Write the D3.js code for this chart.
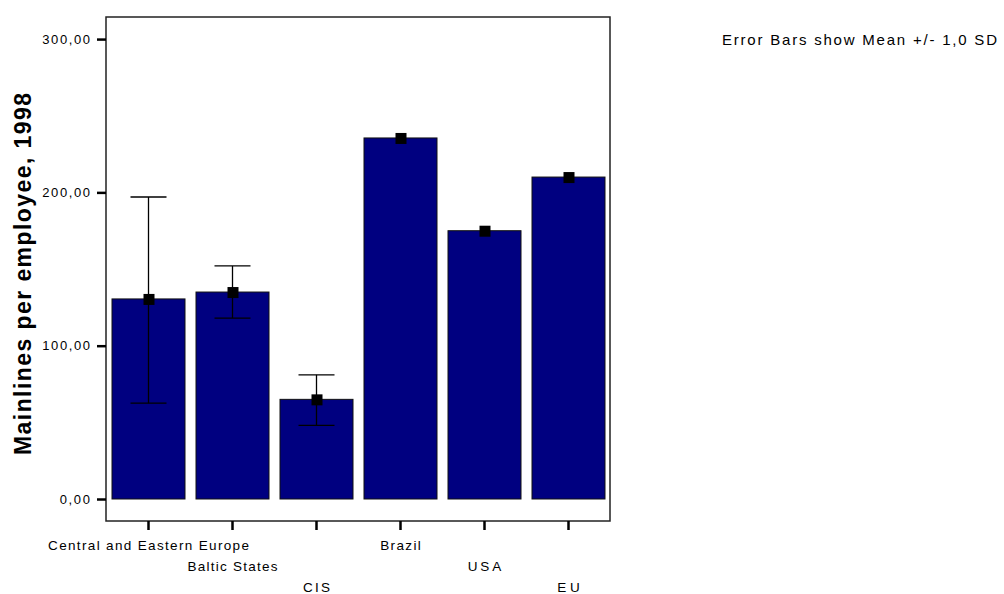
<!DOCTYPE html>
<html>
<head>
<meta charset="utf-8">
<script src="https://cdn.jsdelivr.net/npm/d3@7"></script>
<style>
  body { margin: 0; background: #fff; }
  svg { display: block; }
</style>
</head>
<body>
<svg id="chart" width="1004" height="594"></svg>
<script>
const categories = ["Central and Eastern Europe", "Baltic States", "CIS", "Brazil", "USA", "EU"];
const means = [130.5, 135, 65, 235.5, 175, 210];
const sdLow = [62.5, 118, 48, 235.5, 175, 210];
const sdHigh = [197, 152, 81, 235.5, 175, 210];
const yTicks = [0, 100, 200, 300];

// the original uses a wide bitmap font, so stretch text horizontally
function stretch(sel, k) {
  sel.each(function() {
    const w = this.getComputedTextLength();
    d3.select(this).attr("textLength", w * k).attr("lengthAdjust", "spacing");
  });
}

function main() {
  const svg = d3.select("#chart");
  const frame = {left: 106, right: 610, top: 17, bottom: 521};
  const font = "Liberation Sans, Arial, sans-serif";

  const x = d3.scaleBand()
    .domain(categories)
    .range([112, 605])
    .paddingInner(11 / 84)
    .paddingOuter(0);

  const y = d3.scaleLinear()
    .domain([-14.35, 314.4])
    .range([frame.bottom, frame.top]);

  const fmt = d => d3.format(".2f")(d).replace(".", ",");
  const bw = x.bandwidth();
  const cx = d => x(d) + bw / 2;

  // frame
  svg.append("rect")
    .attr("x", frame.left).attr("y", frame.top)
    .attr("width", frame.right - frame.left)
    .attr("height", frame.bottom - frame.top)
    .attr("fill", "none").attr("stroke", "#222").attr("stroke-width", 1.5);

  // bars
  svg.append("g").selectAll("rect")
    .data(categories).enter()
    .append("rect")
      .attr("x", d => x(d))
      .attr("y", (d, i) => y(means[i]))
      .attr("width", bw)
      .attr("height", (d, i) => y(0) - y(means[i]))
      .attr("fill", "#000080")
      .attr("stroke", "#111")
      .attr("stroke-width", 1);

  // error bars
  const eb = svg.append("g").attr("stroke", "#000").attr("stroke-width", 1.3);
  categories.forEach((c, i) => {
    if (sdHigh[i] - sdLow[i] < 1) return;
    eb.append("line").attr("x1", cx(c)).attr("x2", cx(c))
      .attr("y1", y(sdLow[i])).attr("y2", y(sdHigh[i]));
    [sdLow[i], sdHigh[i]].forEach(v => {
      eb.append("line").attr("x1", cx(c) - 18).attr("x2", cx(c) + 18)
        .attr("y1", y(v)).attr("y2", y(v));
    });
  });

  // mean markers
  svg.append("g").selectAll("rect")
    .data(categories).enter()
    .append("rect")
      .attr("x", d => cx(d) - 5)
      .attr("y", (d, i) => y(means[i]) - 5)
      .attr("width", 11).attr("height", 11)
      .attr("fill", "#000");

  // y axis
  const yAxis = svg.append("g")
    .attr("transform", `translate(${frame.left},0)`)
    .call(d3.axisLeft(y).tickValues(yTicks).tickFormat(fmt).tickSize(9).tickPadding(7));
  yAxis.select(".domain").remove();
  yAxis.selectAll(".tick line").attr("stroke-width", 2.5);
  yAxis.selectAll("text")
    .attr("font-family", font)
    .attr("font-size", 13).attr("fill", "#000")
    .call(stretch, 1.2);

  // x axis
  const xAxis = svg.append("g")
    .attr("transform", `translate(0,${frame.bottom})`)
    .call(d3.axisBottom(x).tickSize(9).tickFormat(""));
  xAxis.select(".domain").remove();
  xAxis.selectAll(".tick line").attr("stroke-width", 2.5);

  svg.append("g").selectAll("text")
    .data(categories).enter()
    .append("text")
      .attr("x", d => cx(d))
      .attr("y", (d, i) => frame.bottom + 29 + (i % 3) * 21)
      .attr("text-anchor", "middle")
      .attr("font-family", font)
      .attr("font-size", 13.5)
      .text(d => d)
      .call(stretch, 1.2);

  // y title
  svg.append("text")
    .attr("transform", `translate(31,${(93 + 455) / 2}) rotate(-90)`)
    .attr("text-anchor", "middle")
    .attr("font-family", font)
    .attr("font-weight", "bold")
    .attr("font-size", 23)
    .attr("textLength", 362)
    .attr("lengthAdjust", "spacing")
    .text("Mainlines per employee, 1998");

  svg.append("text")
    .attr("x", 722).attr("y", 45)
    .attr("font-family", font)
    .attr("font-size", 15)
    .text("Error Bars show Mean +/- 1,0 SD")
    .attr("textLength", 275)
    .attr("lengthAdjust", "spacing");
}

window.addEventListener("load", main);
</script>
</body>
</html>
